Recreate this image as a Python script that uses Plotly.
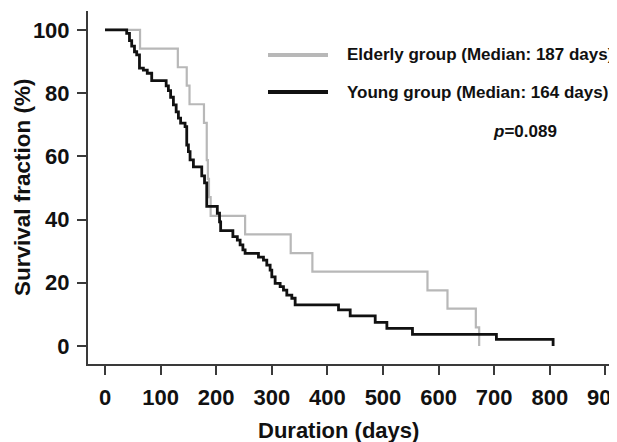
import plotly.graph_objects as go

# ---- data ----
young_days = [0, 39, 44, 48, 53, 57, 62, 69, 76, 84, 110, 114, 118, 123, 128, 132, 136, 144, 147,
              150, 153, 159, 174, 179, 183, 202, 206, 208, 230, 238, 243, 248, 252, 276, 285, 291,
              297, 300, 306, 315, 321, 327, 336, 342, 420, 441, 486, 507, 553, 704, 806]
young_surv = [100, 98.9, 96.6, 94.9, 93.1, 92.1, 87.9, 87.3, 86.3, 84, 82.3, 80.8, 78.7, 76.3, 74.1,
              72.1, 70.5, 69.4, 63.6, 61.5, 58.9, 56.7, 53.8, 51.6, 44.2, 42, 39.3, 36.5, 34.6, 33.5,
              32, 30.4, 29.3, 28.1, 27.2, 25.6, 24, 21.9, 19.8, 18.8, 17.7, 16.1, 15.1, 13, 11.4, 9.5,
              7.5, 5.6, 3.7, 2.1, 0]

elderly_days = [0, 63, 131, 147, 152, 178, 183, 185, 187, 190, 252, 334, 373, 580, 616, 667, 673]
elderly_surv = [100, 94.1, 88.2, 82.4, 76.5, 70.6, 58.8, 52.9, 47.1, 41.2, 35.3, 29.4, 23.5, 17.6,
                11.8, 5.9, 0]

x_ticks = [0, 100, 200, 300, 400, 500, 600, 700, 800, 900]
y_ticks = [0, 20, 40, 60, 80, 100]

legend_labels = ["Elderly group (Median: 187 days)", "Young group (Median: 164 days)"]
p_text = "<i>p</i>=0.089"
x_title = "Duration (days)"
y_title = "Survival fraction (%)"

GRAY = "#b8b8b8"
BLACK = "#111111"
AXIS = "#3a3a3a"
FONT = "Liberation Sans, Arial, sans-serif"

# the page body adds an 8px offset; positions below are screen pixels
OFF = 8
W, H = 617, 442
ML, MR, MT, MB = 80, 0, 3, 86
PW, PH = W - ML - MR, H - MT - MB


def px(xs):
    return (xs - OFF - ML) / PW


def py(ys):
    return (H - MB - (ys - OFF)) / PH


fig = go.Figure()
fig.add_trace(go.Scatter(x=elderly_days, y=elderly_surv, mode="lines", line_shape="hv",
                         line=dict(color=GRAY, width=2.2), name=legend_labels[0], showlegend=False))
fig.add_trace(go.Scatter(x=young_days, y=young_surv, mode="lines", line_shape="hv",
                         line=dict(color=BLACK, width=2.8), name=legend_labels[1], showlegend=False))

# manual legend
for lab, col, yy in [(legend_labels[0], GRAY, 55), (legend_labels[1], BLACK, 92)]:
    fig.add_shape(type="line", xref="paper", yref="paper", x0=px(268), x1=px(328), y0=py(yy), y1=py(yy),
                  line=dict(color=col, width=4))
    fig.add_annotation(xref="paper", yref="paper", x=px(345), y=py(yy), text=lab, showarrow=False,
                       xanchor="left", yanchor="middle",
                       font=dict(family=FONT, size=17, color="#111", weight="bold"))
fig.add_annotation(xref="paper", yref="paper", x=px(525), y=py(131), text=p_text, showarrow=False,
                   xanchor="center", yanchor="middle",
                   font=dict(family=FONT, size=17, color="#111", weight="bold"))

# axis titles
fig.add_annotation(xref="paper", yref="paper", x=px(338), y=py(430), text=x_title, showarrow=False,
                   xanchor="center", yanchor="middle",
                   font=dict(family=FONT, size=22, color="#111", weight="bold"))
fig.add_annotation(xref="paper", yref="paper", x=px(22), y=py(187), text=y_title, showarrow=False,
                   xanchor="center", yanchor="middle", textangle=-90,
                   font=dict(family=FONT, size=22.5, color="#111", weight="bold"))

fig.update_layout(
    width=W, height=H, margin=dict(l=ML, r=MR, t=MT, b=MB, pad=0, autoexpand=False),
    paper_bgcolor="white", plot_bgcolor="white",
    font=dict(family=FONT, color="#111"),
)
fig.update_xaxes(range=[-30.6, 935.3], tickvals=x_ticks, ticks="outside", ticklen=9, tickwidth=2,
                 tickcolor=AXIS, showline=True, linecolor=AXIS, linewidth=2, showgrid=False,
                 zeroline=False, ticklabelstandoff=4, automargin=False, ticklabeloverflow="allow",
                 tickfont=dict(family=FONT, size=22, weight="bold", color="#111"))
fig.update_yaxes(range=[-5.7, 106], tickvals=y_ticks, ticks="outside", ticklen=9, tickwidth=2,
                 tickcolor=AXIS, showline=True, linecolor=AXIS, linewidth=2, showgrid=False,
                 zeroline=False, ticklabelstandoff=3, automargin=False,
                 tickfont=dict(family=FONT, size=22, weight="bold", color="#111"))

fig.write_html("out.html")
